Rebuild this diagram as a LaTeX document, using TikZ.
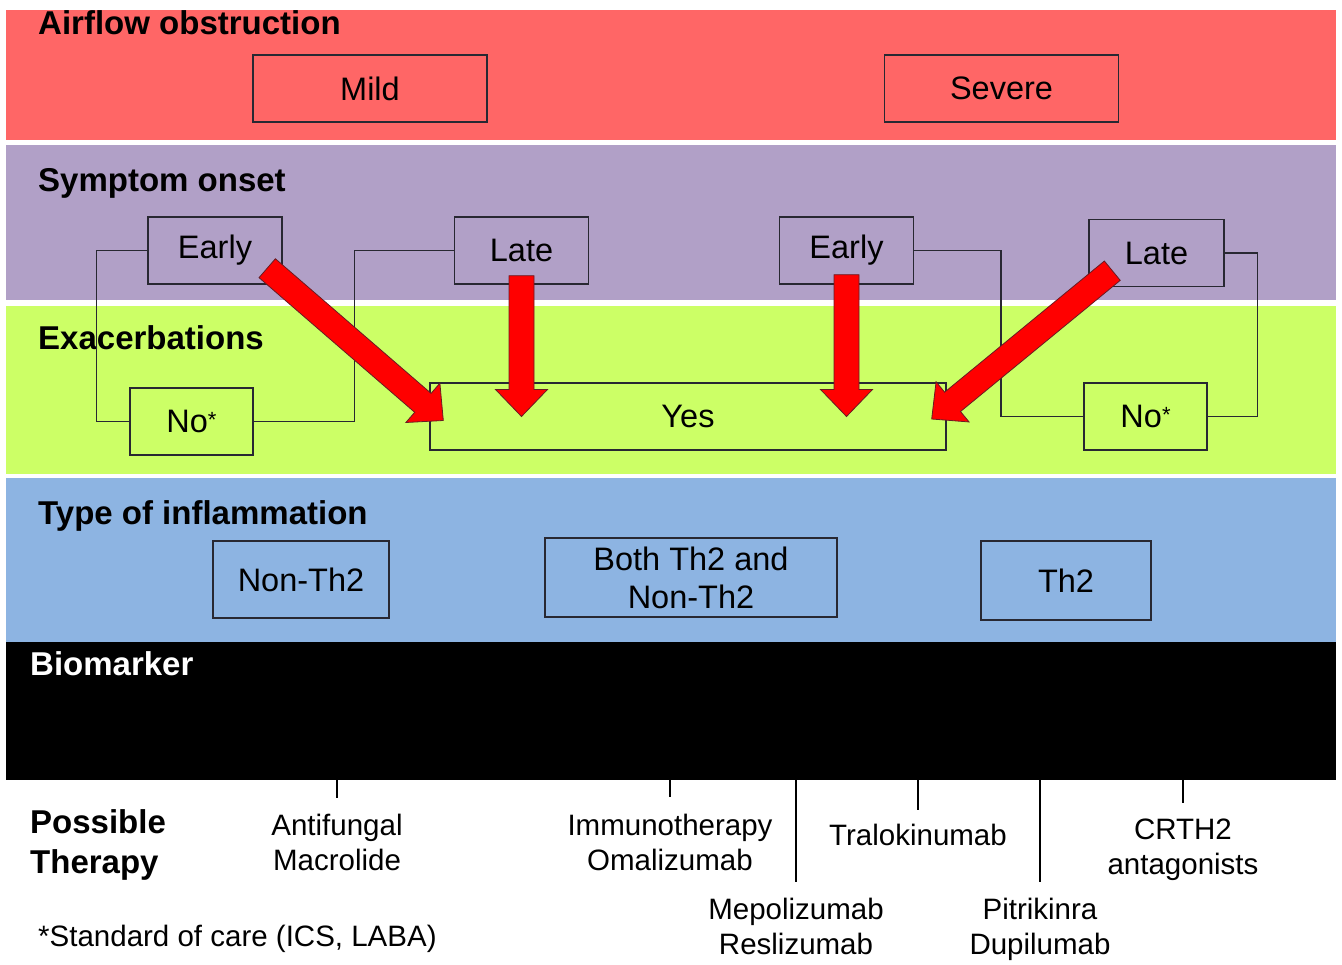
\documentclass[tikz,border=0pt]{standalone}
\usepackage{fontspec}
\setmainfont{Liberation Sans}
\usetikzlibrary{calc}
\definecolor{obRed}{RGB}{255,102,102}
\definecolor{onPurple}{RGB}{177,160,199}
\definecolor{exGreen}{RGB}{204,255,102}
\definecolor{inBlue}{RGB}{141,180,226}
\definecolor{edgeGray}{RGB}{40,40,50}
\tikzset{
    title/.style={font=\fontsize{33}{40}\selectfont\bfseries, anchor=base west, inner sep=0pt},
    box/.style={draw=edgeGray, line width=1.4pt, minimum height=67pt, inner sep=0pt,
                font=\fontsize{32.5}{38}\selectfont, align=center},
    link/.style={draw=edgeGray, line width=1.5pt},
    tick/.style={draw=black, line width=1.3pt},
    drug/.style={font=\fontsize{29.5}{35}\selectfont, align=center, inner sep=0pt},
    redarrow/.style={fill=red, draw=edgeGray!70!red, line width=0.8pt, line join=miter}
}
\newcommand{\arrShaft}{12.5pt}
\newcommand{\arrBarb}{26pt}
\newcommand{\arrHead}{27pt}
\newcommand{\soc}{\raisebox{5pt}{\fontsize{22}{22}\selectfont *}}
% block arrow: name, tail, tip
\newcommand{\blockarrow}[3]{%
  \coordinate (#1h) at ($(#3)!\arrHead!(#2)$);
  \draw[redarrow] ($(#2)!\arrShaft!90:(#3)$) -- ($(#1h)!\arrShaft!90:(#3)$)
    -- ($(#1h)!\arrBarb!90:(#3)$) -- (#3) -- ($(#1h)!\arrBarb!-90:(#3)$)
    -- ($(#1h)!\arrShaft!-90:(#3)$) -- ($(#2)!\arrShaft!-90:(#3)$) -- cycle;}

\begin{document}
\begin{tikzpicture}[x=1pt, y=-1pt]
  \useasboundingbox (0,0) rectangle (1342,965);
  \fill[white] (0,0) rectangle (1342,965);

  % Bands
  \fill[obRed] (6,10) rectangle (1336,140);
  \fill[onPurple] (6,145) rectangle (1336,300);
  \fill[exGreen] (6,306) rectangle (1336,474);
  \fill[inBlue] (6,478) rectangle (1336,642);
  \fill[black] (6,642) rectangle (1336,780);
  \coordinate (bioBase) at (0,780);

  % Titles
  \node[title] (tObs) at (38,35) {Airflow obstruction};
  \node[title] (tOnset) at (38,192) {Symptom onset};
  \node[title] (tExac) at (38,350) {Exacerbations};
  \node[title] (tInfl) at (38,524) {Type of inflammation};
  \node[title, text=white] (tBio) at (30,675) {Biomarker};
  \node[title, anchor=north west, align=left] (tTher) at (30,809) {Possible\\Therapy};

  % Boxes
  \node[box, fill=obRed, minimum width=234pt] (mild) at (370,88.5) {Mild};
  \node[box, fill=obRed, minimum width=234pt] (severe) at (1001.5,88.5) {Severe};
  \node[box, fill=onPurple, minimum width=134pt] (early1) at (215,250.5) {Early};
  \node[box, fill=onPurple, minimum width=134pt] (late1) at (521.5,250.5) {Late};
  \node[box, fill=onPurple, minimum width=134pt] (early2) at (846.5,250.5) {Early};
  \node[box, fill=onPurple, minimum width=135pt] (late2) at (1156.5,253) {Late};
  \node[box, fill=exGreen, minimum width=123pt] (no1) at (191.5,421.5) {No\soc};
  \node[box, fill=exGreen, minimum width=516pt] (yes) at (688,416.5) {Yes};
  \node[box, fill=exGreen, minimum width=123pt] (no2) at (1145.5,416.5) {No\soc};
  \node[box, fill=inBlue, minimum width=176pt, minimum height=77pt] (nonth2) at (301,579.5) {Non-Th2};
  \node[box, fill=inBlue, minimum width=292pt, minimum height=79pt] (both) at (691,577.5) {Both Th2 and\\Non-Th2};
  \node[box, fill=inBlue, minimum width=170pt, minimum height=79pt] (th2) at (1066,580.5) {Th2};

  % Links to the No* boxes
  \draw[link] (early1.west) -- ++(-51,0) |- (no1.west);
  \draw[link] (no1.east) -- ++(101,0) |- (late1.west);
  \draw[link] (early2.east) -- ++(87,0) |- (no2.west);
  \draw[link] (no2.east) -- ++(50,0) |- (late2.east);

  % Red arrows into Yes
  \coordinate (a1s) at ($(early1.south east)+(-15.5,-16.5)$);
  \coordinate (a1e) at ($(yes.west)+(14,4)$);
  \coordinate (a2s) at ($(late1.south)+(0,-9)$);
  \coordinate (a2e) at (late1.south |- yes.center);
  \coordinate (a3s) at ($(early2.south)+(0,-10)$);
  \coordinate (a3e) at (early2.south |- yes.center);
  \coordinate (a4s) at ($(late2.south west)+(24,-16.5)$);
  \coordinate (a4e) at ($(yes.east)+(-15,2.5)$);
  \blockarrow{a1}{a1s}{a1e}
  \blockarrow{a2}{a2s}{a2e}
  \blockarrow{a3}{a3s}{a3e}
  \blockarrow{a4}{a4s}{a4e}

  % Therapies
  \node[drug, anchor=north] (antif) at (337,814) {Antifungal\\Macrolide};
  \node[drug, anchor=north] (immuno) at (670,814) {Immunotherapy\\Omalizumab};
  \node[drug, anchor=north] (mepo) at (796,898) {Mepolizumab\\Reslizumab};
  \node[drug, anchor=base] (tralo) at (918,845) {Tralokinumab};
  \node[drug, anchor=north] (pitri) at (1040,898) {Pitrikinra\\Dupilumab};
  \node[drug, anchor=north] (crth) at (1183,819) {CRTH2\\antagonists};
  \foreach \d/\len in {antif/18, immuno/17, mepo/102, tralo/30, pitri/102, crth/23}
    \draw[tick] (\d.north |- bioBase) -- ++(0,\len);

  \node[drug, anchor=base west] (note) at (38,946) {*Standard of care (ICS, LABA)};
\end{tikzpicture}
\end{document}
